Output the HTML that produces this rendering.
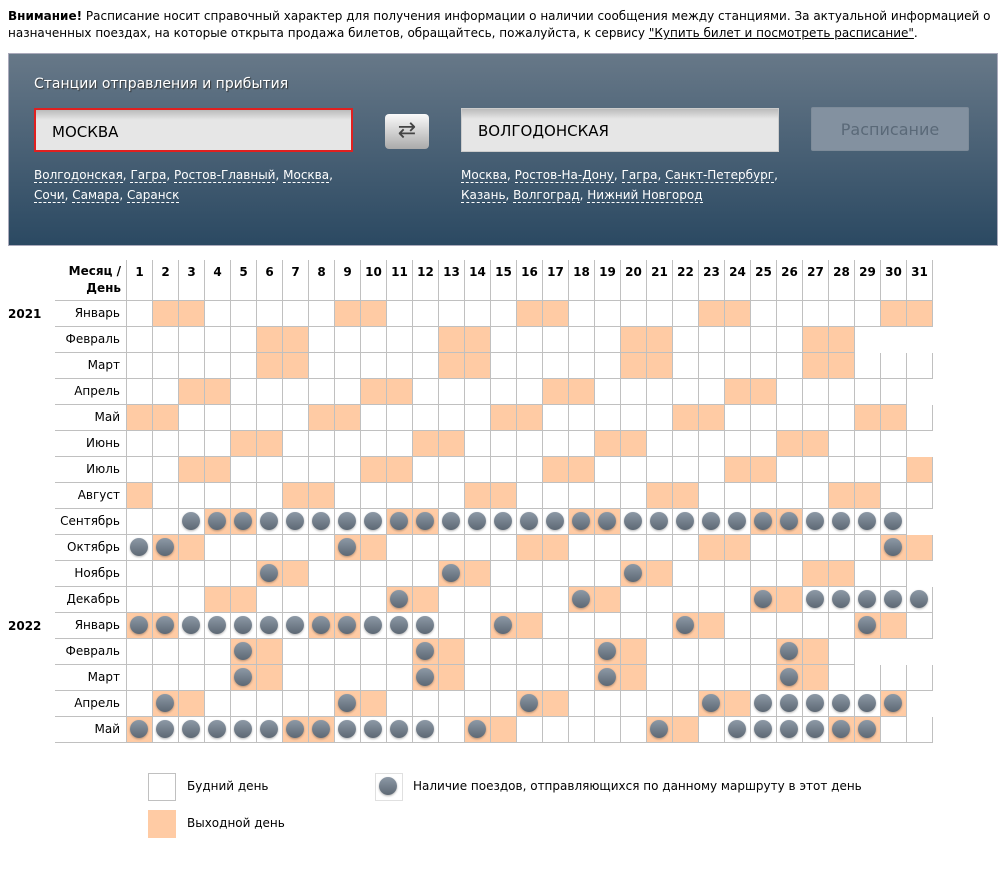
<!DOCTYPE html>
<html><head><meta charset="utf-8"><style>
body{margin:0;width:1007px;height:891px;background:#fff;font-family:"DejaVu Sans","Liberation Sans",sans-serif;position:relative;overflow:hidden;color:#000}
.note{position:absolute;left:8px;top:8px;width:990px;font-size:12px;line-height:17px}
.note a{color:#000;text-decoration:underline}
.panel{position:absolute;left:8px;top:53px;width:988px;height:191px;background:linear-gradient(#677888,#2b4962);border:1px solid #aab}
.ttl{position:absolute;left:25px;top:22px;color:#fff;font-size:14px;text-shadow:1px 1px 1px #333}
.inp{position:absolute;height:44px;background:linear-gradient(#bbb,#e6e6e6 10px,#e6e6e6);font-size:15px;line-height:44px;padding-left:16px;box-sizing:border-box}
.links{position:absolute;color:#fff;font-size:12px;line-height:20px}
.links span{border-bottom:1px dashed #fff}
.sw{position:absolute;left:376px;top:60px;width:44px;height:35px;border-radius:4px;background:linear-gradient(#fafafa,#aaa);font-size:22px;text-align:center;line-height:33px;color:#444}
.btn{position:absolute;left:802px;top:53px;width:158px;height:44px;background:#8391a0;border:1px solid #7d8b99;border-radius:2px;color:#5a6978;font-size:16px;text-align:center;line-height:44px;box-sizing:border-box}
.c{position:absolute;width:26px;height:26px;box-sizing:border-box;border-right:1px solid #c0c0c0;border-bottom:1px solid #c0c0c0}
.w{background:#ffcba4}
.d::after{content:"";position:absolute;left:3px;top:3px;width:18px;height:18px;border-radius:50%;background:linear-gradient(#8d99a6,#5d6874);box-shadow:0 1px 2px rgba(0,0,0,.3)}
.h{position:absolute;width:26px;height:41px;box-sizing:border-box;border-right:1px solid #c0c0c0;border-bottom:1px solid #c0c0c0;font-weight:bold;font-size:12px;text-align:center;padding-top:5px}
.lab{position:absolute;left:55px;width:72px;height:26px;box-sizing:border-box;border-bottom:1px solid #c0c0c0;border-right:1px solid #c0c0c0;text-align:right;padding-right:6px;font-size:12px;line-height:25px}
.yr{position:absolute;left:8px;font-weight:bold;font-size:12px}
.lg{position:absolute;font-size:12px}
</style></head><body>
<div class="note"><b>Внимание!</b> Расписание носит справочный характер для получения информации о наличии сообщения между станциями. За актуальной информацией о назначенных поездах, на которые открыта продажа билетов, обращайтесь, пожалуйста, к сервису <a>"Купить билет и посмотреть расписание"</a>.</div>
<div class="panel">
<div class="ttl">Станции отправления и прибытия</div>
<div class="inp" style="left:25px;top:54px;width:319px;border:2px solid #e02020">МОСКВА</div>
<div class="sw">⇄</div>
<div class="inp" style="left:452px;top:54px;width:318px;border:1px solid #ccc">ВОЛГОДОНСКАЯ</div>
<div class="btn">Расписание</div>
<div class="links" style="left:25px;top:111px"><span>Волгодонская</span>, <span>Гагра</span>, <span>Ростов-Главный</span>, <span>Москва</span>,<br><span>Сочи</span>, <span>Самара</span>, <span>Саранск</span></div>
<div class="links" style="left:452px;top:111px"><span>Москва</span>, <span>Ростов-На-Дону</span>, <span>Гагра</span>, <span>Санкт-Петербург</span>,<br><span>Казань</span>, <span>Волгоград</span>, <span>Нижний Новгород</span></div>
</div>
<div id="g"></div>
<div class="c" style="left:148px;top:773px;width:28px;height:28px;border:1px solid #c0c0c0"></div>
<div class="lg" style="left:187px;top:779px">Будний день</div>
<div class="c w" style="left:148px;top:810px;width:28px;height:28px;border:none"></div>
<div class="lg" style="left:187px;top:816px">Выходной день</div>
<div class="c d" style="left:375px;top:773px;width:28px;height:28px;border:1px solid #e0e0e0"></div>
<div class="lg" style="left:413px;top:779px">Наличие поездов, отправляющихся по данному маршруту в этот день</div>
<script>
(function(){
var g=document.getElementById('g'),h='';
h+='<div style="position:absolute;left:55px;top:260px;width:72px;height:41px;box-sizing:border-box;border-right:1px solid #c0c0c0;border-bottom:1px solid #c0c0c0;font-weight:bold;font-size:12px;text-align:right;padding-right:5px;line-height:17px;padding-top:3px">Месяц /<br>День</div>';
for(var k=1;k<=31;k++)h+='<div class="h" style="left:'+(127+26*(k-1))+'px;top:260px">'+k+'</div>';
var names=['Январь','Февраль','Март','Апрель','Май','Июнь','Июль','Август','Сентябрь','Октябрь','Ноябрь','Декабрь'];
function rng(a,b){var r=[];for(var i=a;i<=b;i++)r.push(i);return r}
var dots={8:rng(3,30),9:[1,2,9,30],10:[6,13,20],11:[11,18,25,27,28,29,30,31],12:rng(1,12).concat([15,22,29]),13:[5,12,19,26],14:[5,12,19,26],15:[2,9,16,23,25,26,27,28,29,30],16:rng(1,12).concat([14,21,24,25,26,27,28,29])};
for(var r=0;r<17;r++){var y=2021+Math.floor(r/12),m=r%12,ty=301+26*r;
if(m==0)h+='<div class="yr" style="top:'+(ty+6)+'px">'+y+'</div>';
h+='<div class="lab" style="top:'+ty+'px">'+names[m]+'</div>';
var n=new Date(y,m+1,0).getDate(),ds=dots[r]||[];
for(var d=1;d<=n;d++){var wd=new Date(y,m,d).getDay();var cl='c'+((wd==0||wd==6)?' w':'')+(ds.indexOf(d)>=0?' d':'');
h+='<div class="'+cl+'" style="left:'+(127+26*(d-1))+'px;top:'+ty+'px"></div>';}}
g.innerHTML=h;
})();
</script>
</body></html>
